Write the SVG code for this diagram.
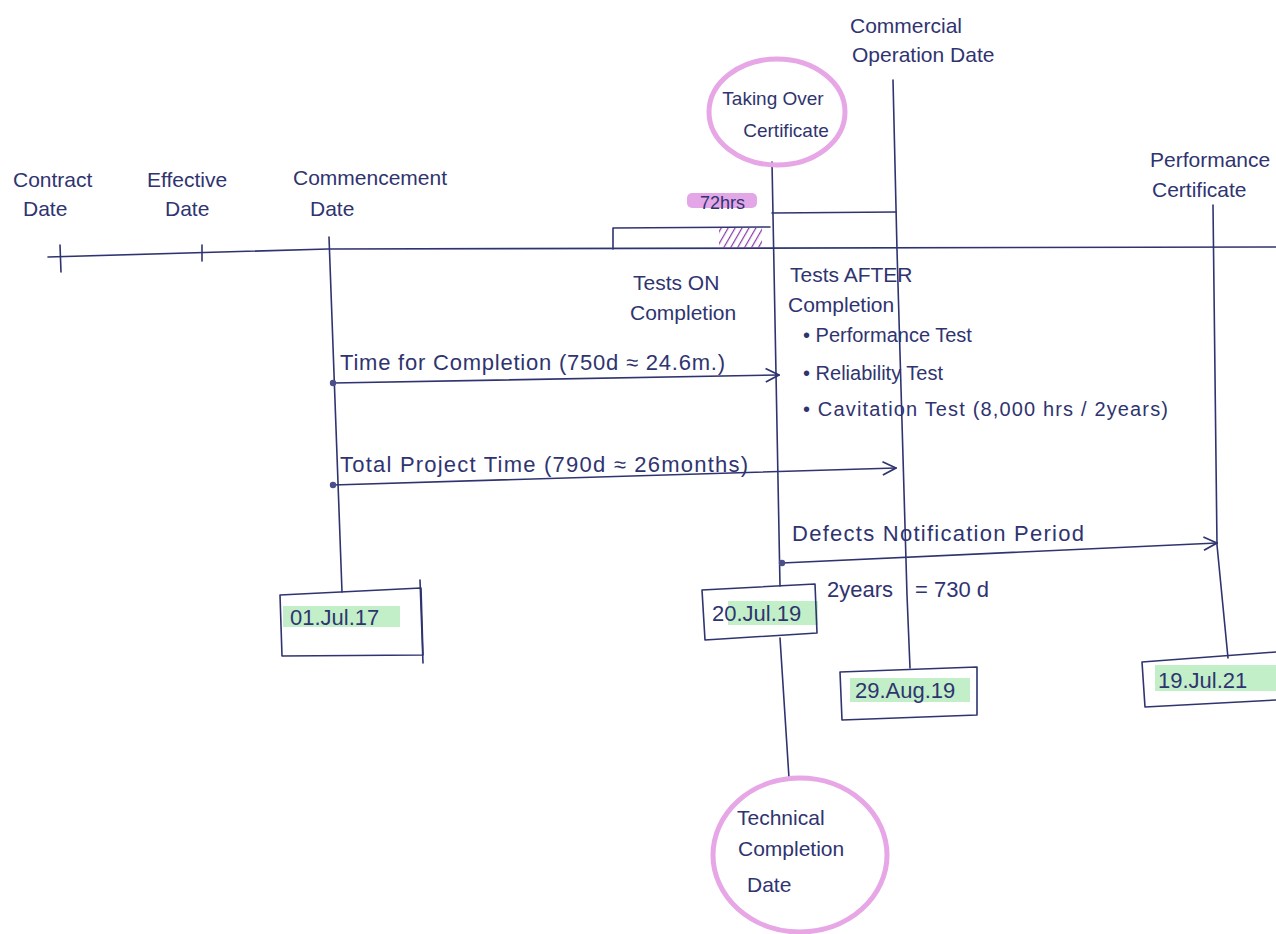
<svg xmlns="http://www.w3.org/2000/svg" width="1276" height="934" viewBox="0 0 1276 934">
<defs>
<style>
.ink{fill:none;stroke:#2f3470;stroke-width:1.6;stroke-linecap:round;stroke-linejoin:round}
.t{font-family:"Liberation Sans",Arial,sans-serif;font-size:21px;fill:#2f3470}
.b{font-size:20px}
.d{font-size:22px}
.c{font-size:19px}
.halo{fill:none;stroke:#e7a6e6;stroke-width:5}
.hl{fill:#c2efc8}
</style>
<marker id="arr" viewBox="0 0 12 12" refX="11" refY="6" markerWidth="16" markerHeight="16" markerUnits="userSpaceOnUse" orient="auto"><path d="M1,1 L11,6 L1,11" fill="none" stroke="#2f3470" stroke-width="1.3"/></marker>
<marker id="dot" viewBox="0 0 8 8" refX="4" refY="4" markerWidth="8" markerHeight="8" markerUnits="userSpaceOnUse"><circle cx="4" cy="4" r="3.2" fill="#4a4f8a"/></marker>
<pattern id="hatch" width="6" height="6" patternUnits="userSpaceOnUse" patternTransform="rotate(30)"><line x1="0" y1="0" x2="0" y2="6" stroke="#8a3aa8" stroke-width="2.4"/></pattern>
</defs>
<rect width="1276" height="934" fill="#ffffff"/>

<g id="connectors">
<path class="ink" d="M48 257 L328 249 L1276 247"/>
<path class="ink" d="M60 245 L61 272"/>
<path class="ink" d="M202 245 L202 261"/>
<path class="ink" d="M329 237 L342 592"/>
<path class="ink" d="M772 162 L780 586"/>
<path class="ink" d="M780 638 L789 778"/>
<path class="ink" d="M893 80 L897 250 L907 595 L910 668"/>
<path class="ink" d="M1213 205 L1217 545 L1228 658"/>
<path class="ink" d="M613 249 L613 228 L770 227"/>
<rect x="719" y="228" width="43" height="20" fill="url(#hatch)"/>
<path class="ink" d="M772 213 L896 212"/>
<path class="ink" d="M333 383 L779 375" marker-start="url(#dot)" marker-end="url(#arr)"/>
<path class="ink" d="M333 485 L896 468" marker-start="url(#dot)" marker-end="url(#arr)"/>
<path class="ink" d="M782 563 L1217 543" marker-start="url(#dot)" marker-end="url(#arr)"/>
</g>

<g id="contract-date">
<text class="t" x="13" y="187">Contract</text>
<text class="t" x="23" y="216">Date</text>
</g>
<g id="effective-date">
<text class="t" x="147" y="187">Effective</text>
<text class="t" x="165" y="216">Date</text>
</g>
<g id="commencement-date">
<text class="t" x="293" y="185">Commencement</text>
<text class="t" x="310" y="216">Date</text>
</g>
<g id="taking-over-certificate">
<ellipse class="halo" cx="777" cy="112" rx="68" ry="53"/>
<text class="t c" x="773" y="105" text-anchor="middle">Taking Over</text>
<text class="t c" x="786" y="137" text-anchor="middle">Certificate</text>
</g>
<g id="commercial-operation-date">
<text class="t" x="850" y="33">Commercial</text>
<text class="t" x="852" y="62">Operation Date</text>
</g>
<g id="performance-certificate">
<text class="t" x="1150" y="167">Performance</text>
<text class="t" x="1152" y="197">Certificate</text>
</g>
<g id="hours-72">
<rect x="687" y="193" width="70" height="15" rx="5" fill="#e3a6e6"/>
<text class="t" x="700" y="209" style="font-size:18px">72hrs</text>
</g>
<g id="tests-on-completion">
<text class="t" x="633" y="290">Tests ON</text>
<text class="t" x="630" y="320">Completion</text>
</g>
<g id="tests-after-completion">
<text class="t" x="790" y="282">Tests AFTER</text>
<text class="t" x="788" y="312">Completion</text>
<text class="t b" x="803" y="342">• Performance Test</text>
<text class="t b" x="803" y="380">• Reliability Test</text>
<text class="t b" x="803" y="416" textLength="365">• Cavitation Test (8,000 hrs / 2years)</text>
</g>
<g id="time-for-completion">
<text class="t d" x="340" y="370" textLength="385">Time for Completion (750d ≈ 24.6m.)</text>
</g>
<g id="total-project-time">
<text class="t d" x="340" y="472" textLength="408">Total Project Time (790d ≈ 26months)</text>
</g>
<g id="defects-notification-period">
<text class="t d" x="792" y="541" textLength="292">Defects Notification Period</text>
<text class="t d" x="827" y="597">2years</text>
<text class="t d" x="915" y="597">= 730 d</text>
</g>
<g id="date-01-jul-17">
<rect class="hl" x="283" y="606" width="117" height="21"/>
<path class="ink" d="M280 595 L421 588 L423 655 L282 656 Z"/>
<path class="ink" d="M420 580 L423 663"/>
<text class="t d" x="290" y="625">01.Jul.17</text>
</g>
<g id="date-20-jul-19">
<rect class="hl" x="728" y="601" width="90" height="24"/>
<path class="ink" d="M702 590 L815 584 L817 633 L705 640 Z"/>
<text class="t d" x="712" y="621">20.Jul.19</text>
</g>
<g id="date-29-aug-19">
<rect class="hl" x="850" y="678" width="120" height="24"/>
<path class="ink" d="M840 672 L977 667 L977 715 L842 720 Z"/>
<text class="t d" x="855" y="698">29.Aug.19</text>
</g>
<g id="date-19-jul-21">
<rect class="hl" x="1155" y="665" width="121" height="26"/>
<path class="ink" d="M1142 662 L1276 652 M1276 700 L1145 707 L1142 662"/>
<text class="t d" x="1158" y="688">19.Jul.21</text>
</g>
<g id="technical-completion-date">
<ellipse class="halo" cx="800" cy="855" rx="87" ry="77"/>
<text class="t" x="737" y="825">Technical</text>
<text class="t" x="738" y="856">Completion</text>
<text class="t" x="747" y="892">Date</text>
</g>
</svg>
